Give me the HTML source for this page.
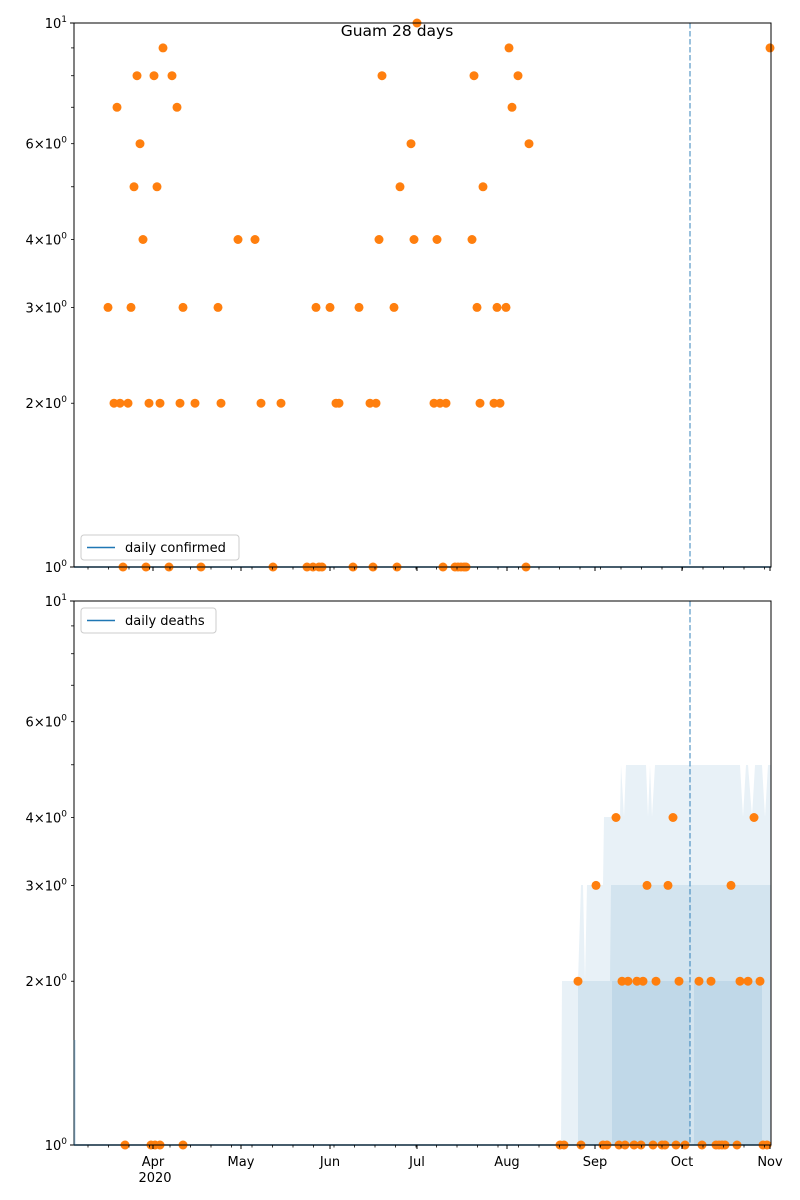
<!DOCTYPE html>
<html><head><meta charset="utf-8"><style>body{margin:0;background:#fff}svg{display:block}text{font-family:"DejaVu Sans","Liberation Sans",sans-serif;font-size:13px;fill:#000}</style></head>
<body>
<svg id="s" width="800" height="1200" xmlns="http://www.w3.org/2000/svg">
<rect width="800" height="1200" fill="#fff"/>
<g id="bands" fill="#1f77b4">
<path fill-opacity="0.1" d="M561,1145 L562,981 L578,981 L581,885 L583,885 L585,981 L587,885 L603,885 L604,817 L620,817 L621,765 L624,817 L626,765 L646,765 L648,817 L650,765 L652,817 L655,765 L740,765 L743,817 L746,765 L748,765 L752,817 L755,765 L762,765 L765,817 L768,765 L771,765 L771,1145 Z"/>
<path fill-opacity="0.1" d="M578,1145 L578,981 L610,981 L611,885 L771,885 L771,1145 Z"/>
<path fill-opacity="0.1" d="M612,1145 L612,981 L690,981 L690,1145 Z M694,1145 L694,981 L762,981 L762,1145 Z"/>
</g>
<g id="g"></g>
<text x="397" y="36" text-anchor="middle" style="font-size:15.5px">Guam 28 days</text>
</svg>
<script>
(function(){
const g=document.getElementById('g');let h='';
const topPts=[[108,3],[114,2],[117,7],[120,2],[123,1],[128,2],[131,3],[134,5],[137,8],[140,6],[143,4],[146,1],[149,2],[154,8],[157,5],[160,2],[163,9],[169,1],[172,8],[177,7],[180,2],[183,3],[195,2],[201,1],[218,3],[221,2],[238,4],[255,4],[261,2],[273,1],[281,2],[307,1],[313,1],[316,3],[319,1],[322,1],[330,3],[336,2],[339,2],[353,1],[359,3],[370,2],[373,1],[376,2],[379,4],[382,8],[394,3],[397,1],[400,5],[411,6],[414,4],[417,10],[434,2],[437,4],[440,2],[443,1],[446,2],[455,1],[458,1],[461,1],[464,1],[466,1],[472,4],[474,8],[477,3],[480,2],[483,5],[494,2],[497,3],[500,2],[506,3],[509,9],[512,7],[518,8],[526,1],[529,6],[770,9]];
const botPts=[[125,1],[151,1],[155,1],[160,1],[183,1],[560,1],[564,1],[578,2],[581,1],[596,3],[603,1],[607,1],[616,4],[619,1],[622,2],[625,1],[628,2],[634,1],[637,2],[641,1],[643,2],[647,3],[653,1],[656,2],[662,1],[665,1],[668,3],[673,4],[676,1],[679,2],[685,1],[699,2],[702,1],[711,2],[716,1],[719,1],[722,1],[725,1],[731,3],[737,1],[740,2],[748,2],[754,4],[760,2],[763,1],[767,1]];
function axes(y0,pts,leg,ly,showX){
 const Y=v=>y0+544-544*Math.log10(v);
 h+=`<line x1="690" y1="${y0}" x2="690" y2="${y0+544}" stroke="#1f77b4" stroke-opacity="0.6" stroke-width="1.5" stroke-dasharray="5.5,2.5"/>`;
 h+=`<line x1="74" y1="${y0+544}" x2="771" y2="${y0+544}" stroke="#1f77b4" stroke-width="1.5"/>`;
 for(const[x,v] of pts)h+=`<circle cx="${x}" cy="${Y(v).toFixed(1)}" r="4.5" fill="#ff7f0e"/>`;
 h+=`<rect x="74" y="${y0}" width="697" height="544" fill="none" stroke="#000" stroke-width="1"/>`;
 for(let v=2;v<=9;v++){const y=Y(v);h+=`<line x1="71" y1="${y}" x2="74" y2="${y}" stroke="#000" stroke-width="0.8"/>`;
  if([2,3,4,6].includes(v))h+=`<text x="67" y="${y+5}" text-anchor="end">${v}×10<tspan dy="-6" style="font-size:9px">0</tspan></text>`;}
 for(const[v,t] of [[1,'0'],[10,'1']]){const y=Y(v);h+=`<line x1="70" y1="${y}" x2="74" y2="${y}" stroke="#000"/><text x="67" y="${y+5}" text-anchor="end">10<tspan dy="-6" style="font-size:9px">${t}</tspan></text>`;}
 const yb=y0+544;
 for(let x=88;x<772;x+=20.5)h+=`<line x1="${x}" y1="${yb}" x2="${x}" y2="${yb+2.5}" stroke="#000" stroke-width="0.8"/>`;
 const m=[[153,'Apr'],[241,'May'],[330,'Jun'],[417,'Jul'],[507,'Aug'],[595,'Sep'],[682,'Oct'],[770,'Nov']];
 for(const[x,t] of m){h+=`<line x1="${x}" y1="${yb}" x2="${x}" y2="${yb+4}" stroke="#000"/>`;if(showX)h+=`<text x="${x}" y="${yb+21}" text-anchor="middle">${t}</text>`;}
 if(showX)h+=`<text x="155" y="${yb+37}" text-anchor="middle">2020</text>`;
 h+=`<rect x="81" y="${ly}" width="${(leg.length*7.67+43).toFixed(0)}" height="25" rx="3" fill="#fff" fill-opacity="0.8" stroke="#ccc"/><line x1="87" y1="${ly+12.5}" x2="115" y2="${ly+12.5}" stroke="#1f77b4" stroke-width="1.5"/><text x="125" y="${ly+17}">${leg}</text>`;
}
axes(23,topPts,'daily confirmed',535,false);
axes(601,botPts,'daily deaths',608,true);
h+=`<line x1="74.5" y1="1040" x2="74.5" y2="1145" stroke="#1f77b4" stroke-opacity="0.3" stroke-width="2"/>`;
g.innerHTML=h;
})();
</script>
</body></html>
